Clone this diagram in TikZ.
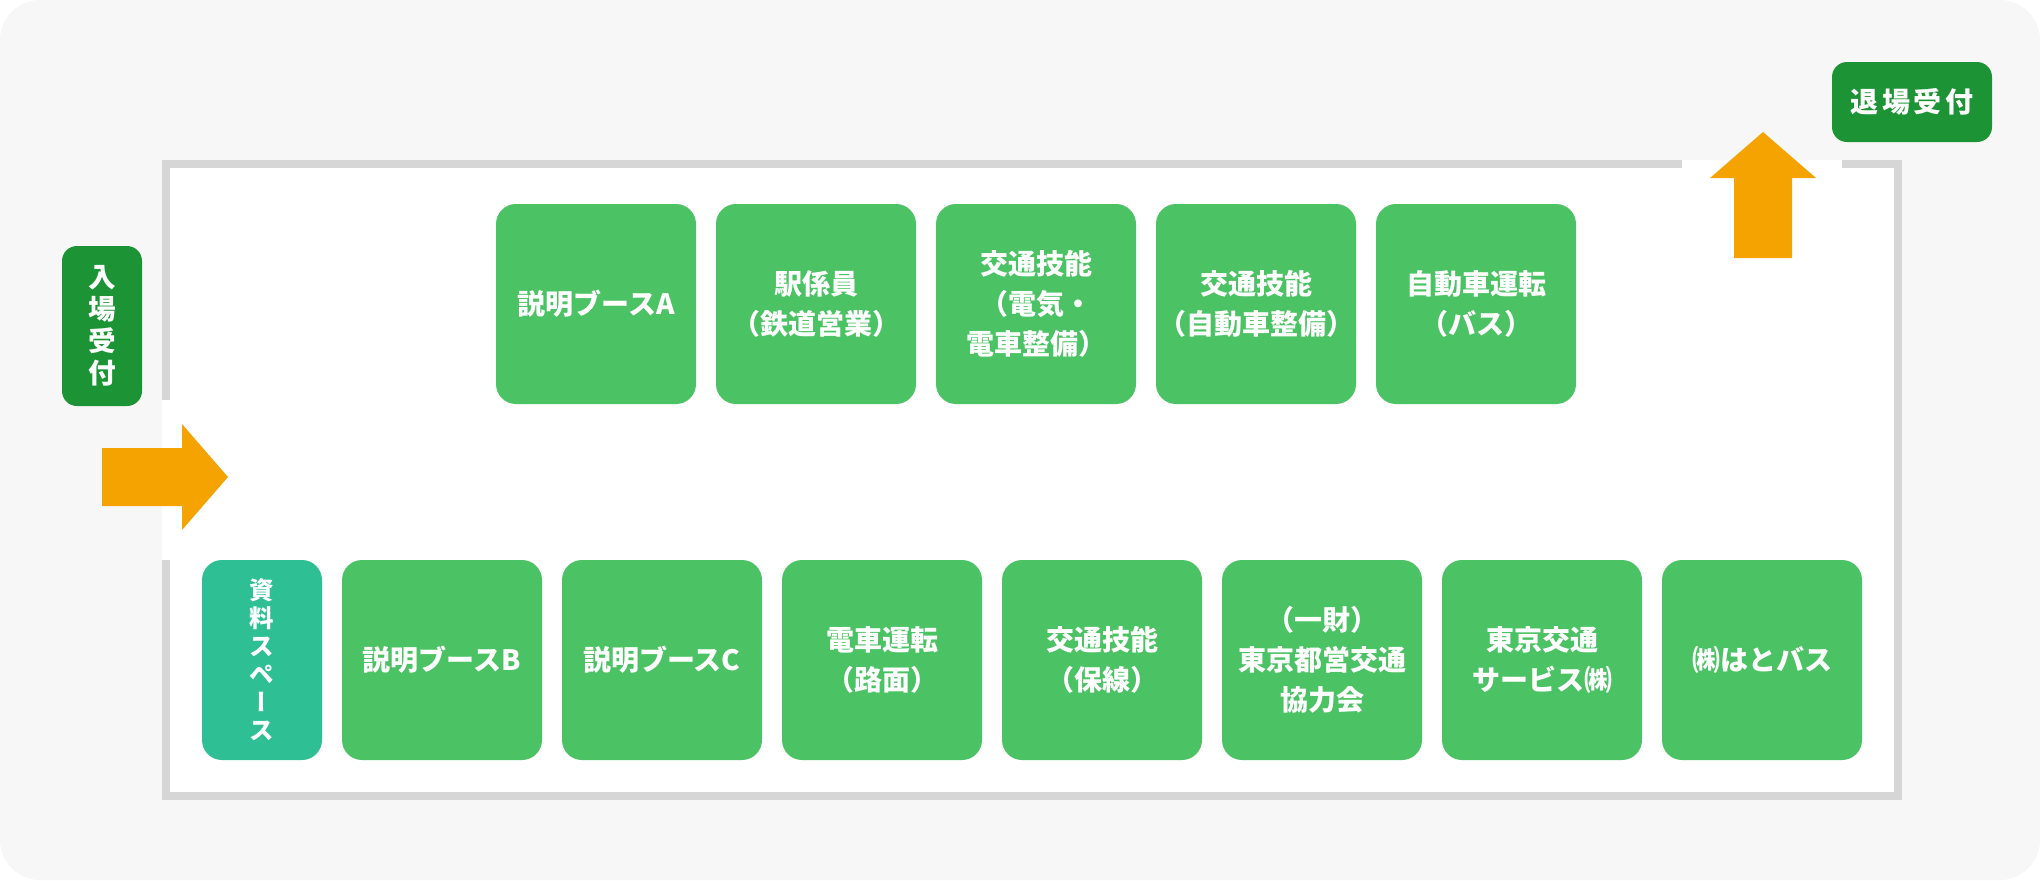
\documentclass[tikz,border=0pt]{standalone}
\usepackage{fontspec}
\setmainfont{Noto Sans CJK JP}
\definecolor{bgcol}{HTML}{F7F7F7}
\definecolor{wallcol}{HTML}{D6D6D6}
\definecolor{boothcol}{HTML}{4BC263}
\definecolor{infocol}{HTML}{2EBF94}
\definecolor{deskcol}{HTML}{1C9334}
\definecolor{flowcol}{HTML}{F5A300}
\newcommand{\vbar}{{\addfontfeature{RawFeature=+vert}ー}}
\begin{document}
\begin{tikzpicture}[x=0.5pt,y=-0.5pt,
  booth/.style={fill=boothcol, rounded corners=10pt, minimum width=100pt, minimum height=100pt,
    inner sep=0pt, text=white, align=center, font=\bfseries\fontsize{14}{20}\selectfont},
  infobox/.style={booth, fill=infocol, minimum width=60pt, font=\bfseries\fontsize{12.2}{14}\selectfont},
  desk/.style={fill=deskcol, rounded corners=7.5pt, inner sep=0pt, text=white, align=center,
    font=\bfseries\fontsize{13.8}{16}\selectfont},
  wall/.style={fill=wallcol},
  flow/.style={fill=flowcol}]
\useasboundingbox (0,0) rectangle (2040,880);
% background
\fill[bgcol, rounded corners=20pt] (0,0) rectangle (2040,880);
% hall interior
\fill[white] (162,160) rectangle (1902,800);
% walls
\fill[wall] (162,160) rectangle (170,400);
\fill[wall] (162,560) rectangle (170,800);
\fill[wall] (162,160) rectangle (1682,168);
\fill[wall] (1842,160) rectangle (1902,168);
\fill[wall] (1894,160) rectangle (1902,800);
\fill[wall] (162,792) rectangle (1902,800);
% reception desks
\node[desk, minimum width=40pt, minimum height=80pt] (in) at (102,326) {入\\場\\受\\付};
\node[desk, minimum width=80pt, minimum height=40pt, font=\bfseries\fontsize{14}{16}\selectfont\addfontfeature{LetterSpace=12}] (out) at (1912,102) {退場受付};
% flow arrows
\fill[flow] (102,448) -- (182,448) -- (182,424) -- (228,477) -- (182,530) -- (182,506) -- (102,506) -- cycle;
\fill[flow] (1734,258) -- (1734,178) -- (1710,178) -- (1763,132) -- (1816,178) -- (1792,178) -- (1792,258) -- cycle;
% upper row
\node[booth] (a1) at (596,304) {説明ブースA};
\node[booth] (a2) at (816,304) {駅係員\\（鉄道営業）};
\node[booth] (a3) at (1036,304) {交通技能\\（電気・\\電車整備）};
\node[booth] (a4) at (1256,304) {交通技能\\（自動車整備）};
\node[booth] (a5) at (1476,304) {自動車運転\\（バス）};
% lower row
\node[infobox] (info) at (262,660) {資\\料\\ス\\ペ\\\vbar\\ス};
\node[booth] (b1) at (442,660) {説明ブースB};
\node[booth] (b2) at (662,660) {説明ブースC};
\node[booth] (b3) at (882,660) {電車運転\\（路面）};
\node[booth] (b4) at (1102,660) {交通技能\\（保線）};
\node[booth] (b5) at (1322,660) {（一財）\\東京都営交通\\協力会};
\node[booth] (b6) at (1542,660) {東京交通\\サービス㈱};
\node[booth] (b7) at (1762,660) {㈱はとバス};
\end{tikzpicture}
\end{document}
